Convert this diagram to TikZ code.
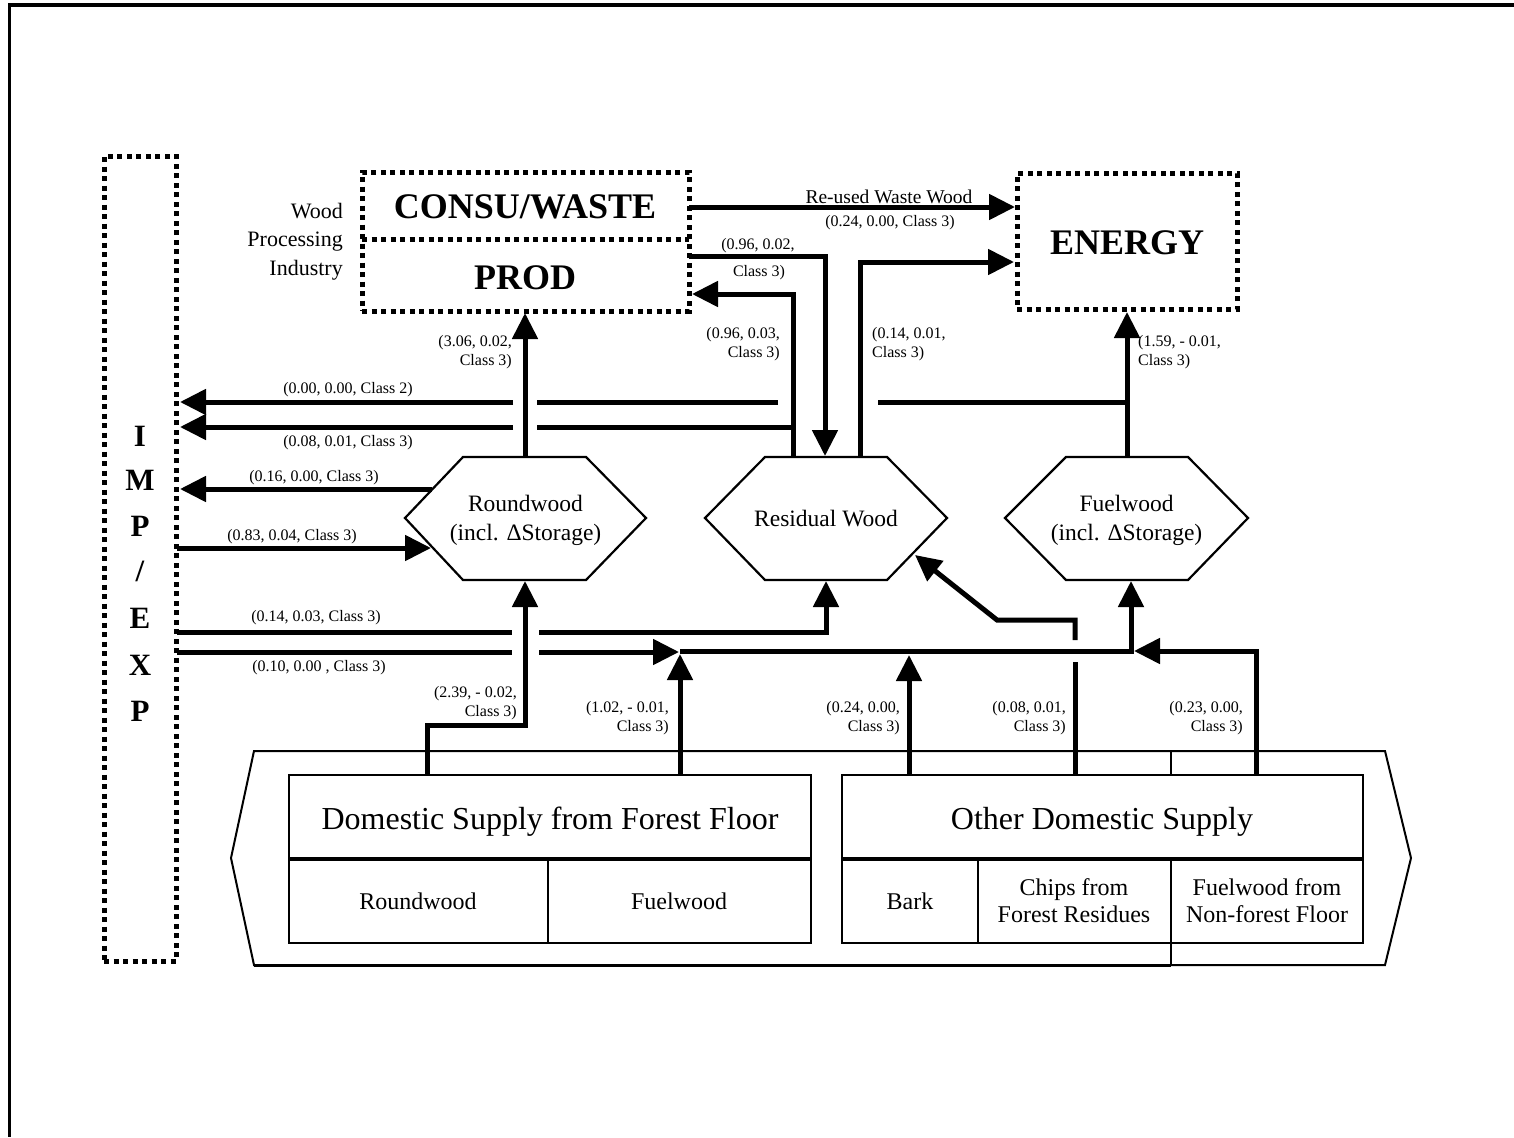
\documentclass[tikz,border=0pt]{standalone}
\usepackage{fontspec}
\setmainfont{Liberation Serif}
\usetikzlibrary{arrows.meta}
\begin{document}
\begin{tikzpicture}[x=1pt,y=-1pt,
  flow/.style={line width=5pt, -{Triangle[length=26pt,width=25pt]}},
  flowline/.style={line width=5pt},
  dotbox/.style={draw, line width=5pt, dash pattern=on 5pt off 4.5pt, inner sep=0pt},
  hexa/.style={line width=2.2pt, line join=miter},
  cell/.style={line width=2.5pt},
  lbl/.style={font=\fontsize{16}{19}\selectfont, inner sep=0pt},
  big/.style={font=\fontsize{36}{40}\selectfont\bfseries, inner sep=0pt},
  hext/.style={font=\fontsize{23.5}{29}\selectfont, align=center, inner sep=0pt},
  boxt/.style={font=\fontsize{32}{36}\selectfont, inner sep=0pt},
  cellt/.style={font=\fontsize{24}{27}\selectfont, align=center, inner sep=0pt},
  impt/.style={font=\fontsize{31}{34}\selectfont\bfseries, inner sep=0pt}
]
\useasboundingbox (0,0) rectangle (1514,1137);
% page frame
\draw[line width=4pt] (8,5) -- (1514,5);
\draw[line width=2.5pt] (9.5,5) -- (9.5,1137);

% IMP/EXP box
\node[dotbox, minimum width=72pt, minimum height=805pt] (imp) at (140,558.5) {};
\node[impt] (imp1) at (140,436) {I};
\node[impt] (imp2) at (140,480) {M};
\node[impt] (imp3) at (140,526) {P};
\node[impt] (imp4) at (140,571) {/};
\node[impt] (imp5) at (140,618) {E};
\node[impt] (imp6) at (140,665) {X};
\node[impt] (imp7) at (140,711) {P};

% CONSU/WASTE + PROD box
\node[dotbox, minimum width=327pt, minimum height=139pt] (cw) at (525.5,241.5) {};
\draw[line width=5pt, dash pattern=on 5pt off 4.5pt] (362,239) -- (689,239);
\node[big] (consu) at (525,207) {CONSU/WASTE};
\node[big] (prod) at (525,278) {PROD};
\node[font=\fontsize{22}{28.5}\selectfont, align=right, anchor=east, inner sep=0pt] (wpi) at (343,241.5) {Wood\\Processing\\Industry};

% ENERGY box
\node[dotbox, minimum width=220pt, minimum height=136pt] (energy) at (1127,241) {};
\node[big] (energyt) at (1127,243) {ENERGY};

% hexagons
\draw[hexa] (405,518) -- (463,457) -- (586,457) -- (646,518) -- (586,580) -- (463,580) -- cycle;
\node[hext] (rw) at (525.5,520) {Roundwood\\(incl. ΔStorage)};
\draw[hexa] (705,518) -- (765,457) -- (887,457) -- (947,518) -- (887,580) -- (765,580) -- cycle;
\node[hext] (res) at (826,519) {Residual Wood};
\draw[hexa] (1005,518) -- (1066,457) -- (1188,457) -- (1248,518) -- (1188,580) -- (1066,580) -- cycle;
\node[hext] (fw) at (1126.5,520) {Fuelwood\\(incl. ΔStorage)};

% bottom supply structure
\draw[line width=2pt] (254,751) -- (1385,751) -- (1411,858) -- (1385,965) -- (254,965) -- (231,858) -- cycle;
\draw[line width=3pt] (254,965) -- (1171,965);
\draw[cell] (289,775) rectangle (811,943);
\draw[line width=3.5pt] (289,859) -- (811,859);
\draw[cell] (548,859) -- (548,943);
\draw[cell] (842,775) rectangle (1363,943);
\draw[line width=3.5pt] (842,859) -- (1363,859);
\draw[cell] (978,859) -- (978,943);
\draw[cell] (1171,859) -- (1171,965);
\draw[cell] (1171,751) -- (1171,775);
\node[boxt] (dom) at (550,822) {Domestic Supply from Forest Floor};
\node[boxt] (oth) at (1102,822) {Other Domestic Supply};
\node[cellt] (drw) at (418,901) {Roundwood};
\node[cellt] (dfw) at (679,901) {Fuelwood};
\node[cellt] (bark) at (910,901) {Bark};
\node[cellt] (chips) at (1074,901) {Chips from\\Forest Residues};
\node[cellt] (nff) at (1267,901) {Fuelwood from\\Non-forest Floor};

% coordinates
\coordinate (j) at (680,651);
\coordinate (jf) at (1131,651);

% top flows
\draw[flow] (689,207) -- (1015,207);
\node[font=\fontsize{19.5}{22}\selectfont, inner sep=0pt] (ruw) at (889,197) {Re-used Waste Wood};
\node[lbl] (l1) at (890,223) {(0.24, 0.00, Class 3)};

\draw[flow] (689,256) -- (825,256) -- (825,456);
\node[lbl] (l2a) at (758,246) {(0.96, 0.02,};
\node[lbl] (l2b) at (759,273) {Class 3)};

\draw[flow] (793,457) -- (793,294) -- (692,294);
\node[lbl, align=right, anchor=east] (l3) at (780,344) {(0.96, 0.03,\\Class 3)};

\draw[flow] (860,457) -- (860,262) -- (1014,262);
\node[lbl, align=left, anchor=west] (l4) at (872,344) {(0.14, 0.01,\\Class 3)};

\draw[flow] (525,457) -- (525,313);
\node[lbl, align=right, anchor=east] (l5) at (512,352) {(3.06, 0.02,\\Class 3)};

\draw[flow] (1127,457) -- (1127,312);
\node[lbl, align=left, anchor=west] (l6) at (1138,352) {(1.59, - 0.01,\\Class 3)};

% export / import lines
\draw[flowline] (1127,402) -- (878,402);
\draw[flowline] (778,402) -- (537,402);
\draw[flow] (513,402) -- (180,402);
\node[lbl] (l7) at (348,390) {(0.00, 0.00, Class 2)};

\draw[flowline] (793,427) -- (537,427);
\draw[flow] (513,427) -- (180,427);
\node[lbl] (l8) at (348,443) {(0.08, 0.01, Class 3)};

\draw[flow] (432,489) -- (180,489);
\node[lbl] (l9) at (314,478) {(0.16, 0.00, Class 3)};

\draw[flow] (177,548) -- (431,548);
\node[lbl] (l10) at (292,537) {(0.83, 0.04, Class 3)};

\draw[flowline] (177,632) -- (512,632);
\draw[flow] (539,632) -- (826,632) -- (826,581);
\node[lbl] (l11) at (316,618) {(0.14, 0.03, Class 3)};

\draw[flowline] (177,652) -- (512,652);
\draw[flow] (539,652) -- (679,652);
\node[lbl] (l12) at (319,668) {(0.10, 0.00 , Class 3)};

% supply flows
\draw[flow] (427,775) -- (427,725) -- (525,725) -- (525,581);
\node[lbl, align=right, anchor=east] (l13) at (517,703) {(2.39, - 0.02,\\Class 3)};

\draw[flow] (680,775) -- (680,654);
\node[lbl, align=right, anchor=east] (l14) at (669,718) {(1.02, - 0.01,\\Class 3)};

\draw[flow] (j) -- (jf) -- (1131,581);

\draw[flow] (909,775) -- (909,655);
\node[lbl, align=right, anchor=east] (l15) at (900,718) {(0.24, 0.00,\\Class 3)};

\draw[flowline] (1075,775) -- (1075,662);
\draw[flow] (1075,640) -- (1075,620) -- (997,620) -- (915,555);
\node[lbl, align=right, anchor=east] (l16) at (1066,718) {(0.08, 0.01,\\Class 3)};

\draw[flow] (1256,775) -- (1256,651) -- (1134,651);
\node[lbl, align=right, anchor=east] (l17) at (1243,718) {(0.23, 0.00,\\Class 3)};
\end{tikzpicture}
\end{document}
